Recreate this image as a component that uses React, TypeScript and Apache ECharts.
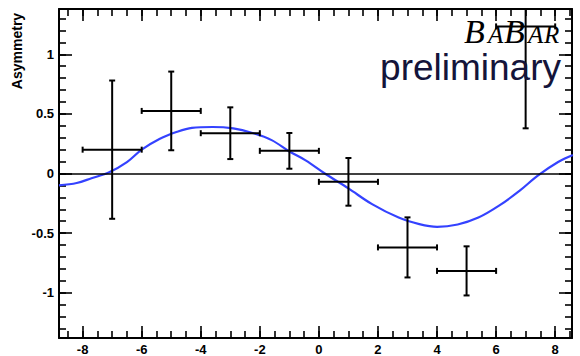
import React, { useEffect, useRef } from "react";
import * as echarts from "echarts";

// Measured asymmetry points: bin centre, value, half bin width, error
const pointX = [-7, -5, -3, -1, 1, 3, 5, 7];
const pointY = [0.2, 0.525, 0.338, 0.19, -0.07, -0.62, -0.817, 1.234];
const pointXErr = [1, 1, 1, 1, 1, 1, 1, 1];
const pointYErr = [0.58, 0.33, 0.217, 0.15, 0.2, 0.252, 0.206, 0.855];

// Fitted curve, sampled along the x range
const curveX = [-8.8, -8.2, -7.7, -7.1, -6.5, -6.0, -5.4, -4.8, -4.3, -3.6, -2.9, -2.25, -1.6, -1.0, -0.45, 0.2, 1.0, 1.8, 2.7, 3.4, 4.0, 4.7, 5.4, 6.1, 6.8, 7.4, 8.1, 8.6];
const curveY = [-0.1, -0.08, -0.04, 0.01, 0.095, 0.2, 0.29, 0.35, 0.383, 0.39, 0.378, 0.34, 0.28, 0.185, 0.11, 0.0, -0.125, -0.257, -0.37, -0.425, -0.448, -0.428, -0.37, -0.27, -0.144, -0.02, 0.096, 0.155];

// Axis ranges and tick positions
const X_MIN = -8.8;
const X_MAX = 8.57;
const Y_MIN = -1.38;
const Y_MAX = 1.38;
const xMajorTicks = [-8, -6, -4, -2, 0, 2, 4, 6, 8];
const yMajorTicks = [-1, -0.5, 0, 0.5, 1];

function steps(from: number, to: number, step: number): number[] {
  const out: number[] = [];
  const n = Math.round((to - from) / step);
  for (let i = 0; i <= n; i++) out.push(Math.round((from + i * step) * 1000) / 1000);
  return out;
}
const xMinorTicks = steps(-8.5, 8.5, 0.5);
const yMinorTicks = steps(-1.3, 1.3, 0.1);

const BLACK = "#000";
const LABEL_FONT = {
  color: "#000",
  fontFamily: "Liberation Sans, Arial, sans-serif",
  fontWeight: "bold" as const,
  fontSize: 13,
};

function frameAxis(
  kind: "x" | "y",
  position: string,
  ticks: number[],
  tickLen: number,
  withLabels: boolean,
  withLine: boolean
) {
  const isX = kind === "x";
  return {
    type: "value",
    position,
    min: isX ? X_MIN : Y_MIN,
    max: isX ? X_MAX : Y_MAX,
    axisLine: {
      show: withLine,
      onZero: false,
      lineStyle: { color: BLACK, width: 2 },
    },
    axisTick: {
      show: true,
      inside: true,
      length: tickLen,
      customValues: ticks,
      lineStyle: { color: BLACK, width: 1.6 },
    },
    axisLabel: withLabels
      ? { show: true, customValues: ticks, margin: 5, ...LABEL_FONT }
      : { show: false },
    splitLine: { show: false },
  };
}

export default function App() {
  const ref = useRef<HTMLDivElement>(null);

  useEffect(() => {
    if (!ref.current) return;
    const chart = echarts.init(ref.current, undefined, { renderer: "svg" });

    const errorData = pointX.map((x, i) => [x, pointY[i], pointXErr[i], pointYErr[i]]);
    const curveData = curveX.map((x, i) => [x, curveY[i]]);

    // Experiment logo in small caps: large B's, smaller A / AR
    const bigSize = 34;
    const smallSize = 25;
    const serif = "Liberation Serif, Times New Roman, serif";
    const logoBase = 43;
    const logoLetters = [
      { t: "B", x: 464, big: true },
      { t: "A", x: 488, big: false },
      { t: "B", x: 504, big: true },
      { t: "A", x: 528, big: false },
      { t: "R", x: 544, big: false },
    ];

    const option: any = {
      animation: false,
      grid: { left: 59, top: 9, width: 513, height: 330, containLabel: false },
      xAxis: [
        frameAxis("x", "bottom", xMajorTicks, 12, true, true),
        frameAxis("x", "bottom", xMinorTicks, 7, false, false),
        frameAxis("x", "top", xMajorTicks, 12, false, true),
        frameAxis("x", "top", xMinorTicks, 7, false, false),
      ],
      yAxis: [
        frameAxis("y", "left", yMajorTicks, 13, true, true),
        frameAxis("y", "left", yMinorTicks, 7, false, false),
        frameAxis("y", "right", yMajorTicks, 13, false, true),
        frameAxis("y", "right", yMinorTicks, 7, false, false),
      ],
      series: [
        {
          type: "line",
          xAxisIndex: 0,
          yAxisIndex: 0,
          data: curveData,
          smooth: 0.35,
          showSymbol: false,
          symbol: "none",
          silent: true,
          lineStyle: { color: "#3442ff", width: 2.2 },
          z: 3,
          markLine: {
            silent: true,
            symbol: "none",
            label: { show: false },
            lineStyle: { color: BLACK, width: 1.6, type: "solid" },
            data: [{ yAxis: 0 }],
          },
        },
        {
          type: "custom",
          xAxisIndex: 0,
          yAxisIndex: 0,
          data: errorData,
          encode: { x: 0, y: 1 },
          z: 4,
          renderItem: (params: any, api: any) => {
            const x = api.value(0);
            const y = api.value(1);
            const ex = api.value(2);
            const ey = api.value(3);
            const cs = params.coordSys;
            const c = api.coord([x, y]);
            const l = api.coord([x - ex, y]);
            const r = api.coord([x + ex, y]);
            const t = api.coord([x, y + ey]);
            const b = api.coord([x, y - ey]);
            const topY = Math.max(t[1], cs.y);
            const botY = Math.min(b[1], cs.y + cs.height);
            const cap = 3;
            const style = { stroke: BLACK, lineWidth: 2, fill: "none" };
            const children: any[] = [
              { type: "line", shape: { x1: l[0], y1: c[1], x2: r[0], y2: c[1] }, style },
              { type: "line", shape: { x1: c[0], y1: topY, x2: c[0], y2: botY }, style },
              { type: "line", shape: { x1: l[0], y1: c[1] - cap, x2: l[0], y2: c[1] + cap }, style },
              { type: "line", shape: { x1: r[0], y1: c[1] - cap, x2: r[0], y2: c[1] + cap }, style },
            ];
            if (t[1] >= cs.y) {
              children.push({ type: "line", shape: { x1: c[0] - cap, y1: t[1], x2: c[0] + cap, y2: t[1] }, style });
            }
            if (b[1] <= cs.y + cs.height) {
              children.push({ type: "line", shape: { x1: c[0] - cap, y1: b[1], x2: c[0] + cap, y2: b[1] }, style });
            }
            return { type: "group", children };
          },
        },
      ],
      graphic: [
        {
          type: "text",
          x: 17,
          y: 51,
          rotation: Math.PI / 2,
          style: {
            text: "Asymmetry",
            align: "center",
            verticalAlign: "middle",
            fill: "#000",
            font: "bold 14px 'Liberation Sans', Arial, sans-serif",
          },
        },
        ...logoLetters.map((L) => {
          const size = L.big ? bigSize : smallSize;
          return {
            type: "text",
            x: L.x,
            y: logoBase - 0.3375 * size,
            z: 10,
            style: {
              text: L.t,
              align: "left",
              verticalAlign: "middle",
              fill: "#000",
              font: `italic ${size}px ${serif}`,
            },
          };
        }),
        {
          type: "text",
          x: 561,
          y: 80 - 0.3465 * 37,
          z: 10,
          style: {
            text: "preliminary",
            align: "right",
            verticalAlign: "middle",
            fill: "#14143a",
            font: "37px 'Liberation Sans', Arial, sans-serif",
          },
        },
      ],
    };

    chart.setOption(option);
    return () => chart.dispose();
  }, []);

  return (
    <div
      ref={ref}
      style={{ position: "fixed", left: 0, top: 0, width: 580, height: 356, background: "#fff" }}
    />
  );
}
